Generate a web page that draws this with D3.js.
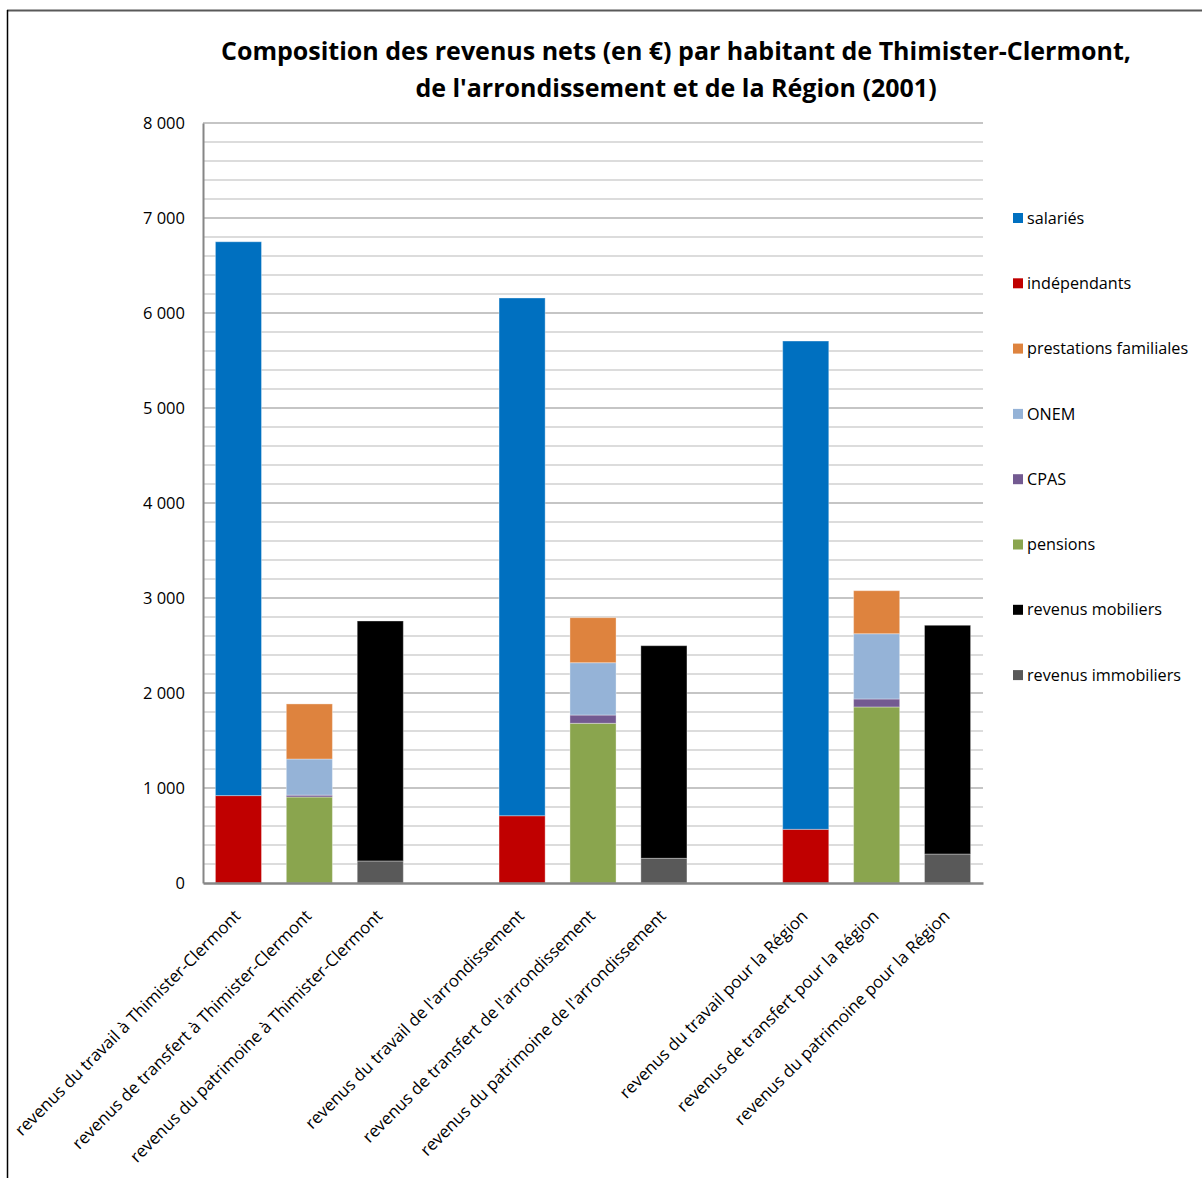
<!DOCTYPE html>
<html lang="fr">
<head>
<meta charset="UTF-8">
<title>Composition des revenus nets</title>
<script src="https://d3js.org/d3.v7.min.js"></script>
<style>
    body { margin: 0; padding: 0; background: #fff; }
    svg { display: block; font-family: "Open Sans", "DejaVu Sans", sans-serif; }
</style>
</head>
<body>
<svg width="1202" height="1178"></svg>
<script>
// categories (empty strings = gaps between the three groups)
const categories = [
    "revenus du travail à Thimister-Clermont",
    "revenus de transfert à Thimister-Clermont",
    "revenus du patrimoine à Thimister-Clermont",
    "",
    "revenus du travail de l'arrondissement",
    "revenus de transfert de l'arrondissement",
    "revenus du patrimoine de l'arrondissement",
    " ",
    "revenus du travail pour la Région",
    "revenus de transfert pour la Région",
    "revenus du patrimoine pour la Région"
];

// series, in legend order
const seriesNames = ["salariés", "indépendants", "prestations familiales", "ONEM", "CPAS", "pensions", "revenus mobiliers", "revenus immobiliers"];
const seriesColors = ["#0070C0", "#C00000", "#DE833E", "#95B3D7", "#735A91", "#8AA54E", "#000000", "#595959"];

const salaries      = [5830, 0, 0, 0, 5450, 0, 0, 0, 5140, 0, 0];
const independants  = [920, 0, 0, 0, 708, 0, 0, 0, 565, 0, 0];
const prestations   = [0, 580, 0, 0, 0, 474, 0, 0, 0, 453, 0];
const onem          = [0, 380, 0, 0, 0, 551, 0, 0, 0, 687, 0];
const cpas          = [0, 20, 0, 0, 0, 87, 0, 0, 0, 84, 0];
const pensions      = [0, 905, 0, 0, 0, 1681, 0, 0, 0, 1853, 0];
const mobiliers     = [0, 0, 2526, 0, 0, 0, 2238, 0, 0, 0, 2408];
const immobiliers   = [0, 0, 232, 0, 0, 0, 260, 0, 0, 0, 305];

const yTicks = [0, 1000, 2000, 3000, 4000, 5000, 6000, 7000, 8000];

const seriesValues = [salaries, independants, prestations, onem, cpas, pensions, mobiliers, immobiliers];

// table for d3.stack
const table = categories.map((c, i) => {
    const row = { cat: c };
    seriesNames.forEach((s, k) => row[s] = seriesValues[k][i]);
    return row;
});

const svg = d3.select("svg");
const fmt = v => d3.format(",")(v).replace(/,/g, " ");

// frame
svg.append("line").attr("x1", 7).attr("x2", 1202).attr("y1", 10.5).attr("y2", 10.5)
    .attr("stroke", "#595959").attr("stroke-width", 2);
svg.append("line").attr("x1", 7.5).attr("x2", 7.5).attr("y1", 10).attr("y2", 1178)
    .attr("stroke", "#000").attr("stroke-width", 1.5);

// title
const title = svg.append("text")
    .attr("text-anchor", "middle")
    .attr("font-weight", "bold")
    .attr("font-size", 25)
    .attr("fill", "#000");
title.append("tspan").attr("x", 676).attr("y", 60).text("Composition  des revenus nets (en €) par habitant de Thimister-Clermont,");
title.append("tspan").attr("x", 676).attr("y", 97).text("de l'arrondissement  et de la Région (2001)");

const x = d3.scaleBand().domain(categories).range([203, 983]).paddingInner(0.35).paddingOuter(0.175);
const y = d3.scaleLinear().domain([0, 8000]).range([883, 123]);

// minor grid lines every 200
const minor = d3.range(200, 8001, 200).filter(v => v % 1000 !== 0);
svg.append("g").selectAll("line").data(minor).join("line")
    .attr("x1", 203).attr("x2", 983)
    .attr("y1", d => y(d)).attr("y2", d => y(d))
    .attr("stroke", "#d0d0d0").attr("stroke-width", 1.5);

// major grid lines
svg.append("g").selectAll("line").data(yTicks.slice(1)).join("line")
    .attr("x1", 203).attr("x2", 983)
    .attr("y1", d => y(d)).attr("y2", d => y(d))
    .attr("stroke", "#8c8c8c").attr("stroke-width", 1.2);

// stacked bars
const stack = d3.stack().keys(seriesNames.slice().reverse());
const layers = stack(table);
const colorOf = d3.scaleOrdinal().domain(seriesNames).range(seriesColors);

svg.append("g").selectAll("g").data(layers).join("g")
    .attr("fill", d => colorOf(d.key))
    .selectAll("rect").data(d => d.filter(p => p[1] - p[0] > 0)).join("rect")
    .attr("x", d => x(d.data.cat))
    .attr("width", x.bandwidth())
    .attr("y", d => y(d[1]))
    .attr("height", d => y(d[0]) - y(d[1]))
    .attr("stroke", "rgba(255,255,255,0.35)")
    .attr("stroke-width", 1);

// y axis
const yAxis = svg.append("g").attr("transform", "translate(203,0)")
    .call(d3.axisLeft(y).tickValues(yTicks).tickFormat(fmt).tickSize(0).tickPadding(18));
yAxis.select(".domain").attr("stroke", "#868686").attr("stroke-width", 2);
yAxis.selectAll("text").attr("font-size", 16.5).attr("fill", "#000")
    .attr("font-family", "'Open Sans', sans-serif");

// x axis
const xAxis = svg.append("g").attr("transform", "translate(0,883)")
    .call(d3.axisBottom(x).tickSize(0).tickFormat(d => d.trim()));
xAxis.select(".domain").attr("stroke", "#868686").attr("stroke-width", 2.5);
xAxis.selectAll("text")
    .attr("font-size", 16.8)
    .attr("fill", "#000")
    .attr("font-family", "'Open Sans', sans-serif")
    .attr("text-anchor", "end")
    .attr("dy", 0)
    .attr("transform", "translate(1,32) rotate(-45)");

// legend
const legend = svg.append("g").attr("transform", "translate(1013,218)");
seriesNames.forEach((s, i) => {
    const g = legend.append("g").attr("transform", `translate(0,${i * 65.3})`);
    g.append("rect").attr("x", 0).attr("y", -5).attr("width", 10).attr("height", 10)
        .attr("fill", seriesColors[i]);
    g.append("text").attr("x", 14).attr("y", 0).attr("dy", "0.35em")
        .attr("font-size", 16.2).attr("fill", "#000").text(s);
});
</script>
</body>
</html>
